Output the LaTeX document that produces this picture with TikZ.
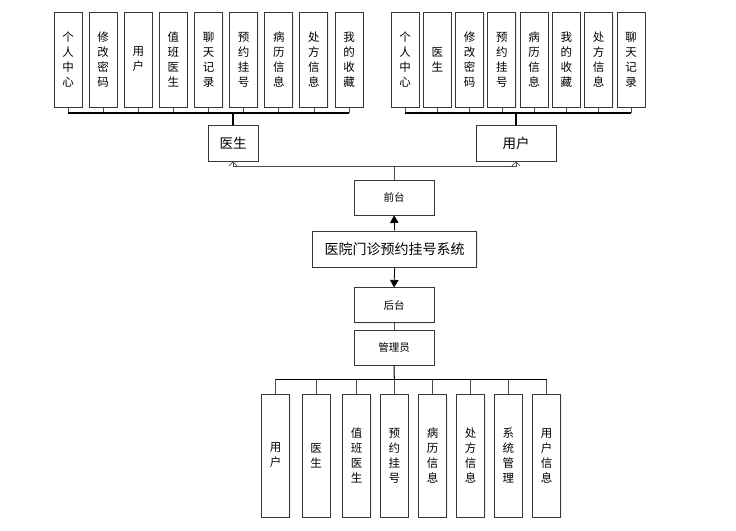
\documentclass[tikz,border=0pt]{standalone}
\usepackage{fontspec}
\setmainfont{Noto Sans CJK SC}
\usetikzlibrary{arrows.meta,shadows}
\begin{document}
\begin{tikzpicture}[x=1pt,y=-1pt,
  box/.style={draw=black!78, line width=0.8pt, fill=white, inner sep=0pt, align=center,
    drop shadow={opacity=0.12, shadow xshift=1pt, shadow yshift=-1pt}},
  tallbox/.style={box, minimum width=28pt, minimum height=95pt, font=\fontsize{11.5}{15}\selectfont},
  lowbox/.style={box, minimum width=28pt, minimum height=123pt, font=\fontsize{11.5}{15}\selectfont},
  midbox/.style={box, minimum height=36pt, font=\fontsize{13.5}{16}\selectfont},
  smallbox/.style={box, minimum width=80pt, minimum height=35pt, font=\fontsize{10.5}{13}\selectfont},
  conn/.style={draw=black!70, line width=0.6pt},
  bus/.style={draw=black, line width=1.3pt},
  bus2/.style={draw=black, line width=1pt},
  openarrow/.style={-{Straight Barb[length=4pt,width=8pt]}},
  fillarrow/.style={-{Triangle[length=7.5pt,width=8.5pt]}}
]
\useasboundingbox (0,0) rectangle (736,530);

% top-left group
\foreach \t [count=\i from 0] in {{个\\人\\中\\心},{修\\改\\密\\码},{用\\户},{值\\班\\医\\生},{聊\\天\\记\\录},{预\\约\\挂\\号},{病\\历\\信\\息},{处\\方\\信\\息},{我\\的\\收\\藏}}
  \node[tallbox] (L\i) at ({68+35.125*\i},59.5) {\t};

% top-right group
\foreach \t [count=\i from 0] in {{个\\人\\中\\心},{医\\生},{修\\改\\密\\码},{预\\约\\挂\\号},{病\\历\\信\\息},{我\\的\\收\\藏},{处\\方\\信\\息},{聊\\天\\记\\录}}
  \node[tallbox] (R\i) at ({405+32.29*\i},59.5) {\t};

% middle nodes
\node[midbox, minimum width=50pt] (ys) at (233,143) {医生};
\node[midbox, minimum width=80pt] (yh) at (516,143) {用户};
\node[smallbox] (qt) at (394,197.5) {前台};
\node[midbox, minimum width=164pt, font=\fontsize{14}{16}\selectfont] (main) at (394.7,249) {医院门诊预约挂号系统};
\node[smallbox] (ht) at (394,305.3) {后台};
\node[smallbox] (gly) at (394,347.5) {管理员};

% bottom group
\foreach \t/\x [count=\i from 0] in {{用\\户}/275.7,{医\\生}/316,{值\\班\\医\\生}/356.7,{预\\约\\挂\\号}/394.3,{病\\历\\信\\息}/432.7,{处\\方\\信\\息}/470.7,{系\\统\\管\\理}/508.3,{用\\户\\信\\息}/546.7}
  \node[lowbox] (B\i) at (\x,455.5) {\t};

% top-left bus
\coordinate (lj) at (233,113);
\foreach \i in {0,...,8} \draw[conn] (L\i.south) -- (L\i.south |- lj);
\draw[bus] (L0.south |- lj) -- (L8.south |- lj);
\draw[bus] (lj) -- (ys.north);

% top-right bus
\coordinate (rj) at (516,113);
\foreach \i in {0,...,7} \draw[conn] (R\i.south) -- (R\i.south |- rj);
\draw[bus] (R0.south |- rj) -- (R7.south |- rj);
\draw[bus] (rj) -- (yh.north);

% front-end connections
\coordinate (fj) at (394,166);
\draw[conn] (qt.north) -- (fj);
\draw[conn, line width=0.7pt, openarrow] (fj) -| (ys.south);
\draw[conn, line width=0.7pt, openarrow] (fj) -| (yh.south);

% main arrows
\draw[draw=black, line width=0.8pt, fillarrow] (main.north) -- (qt.south);
\draw[draw=black, line width=0.8pt, fillarrow] (main.south) -- (ht.north);
\draw[conn] (ht.south) -- (gly.north);

% bottom bus
\coordinate (bj) at (394.3,379);
\draw[bus2] (gly.south) -- (bj);
\foreach \i in {0,...,7} \draw[conn] (B\i.north) -- (B\i.north |- bj);
\draw[bus2] (B0.north |- bj) -- (B7.north |- bj);
\end{tikzpicture}
\end{document}
